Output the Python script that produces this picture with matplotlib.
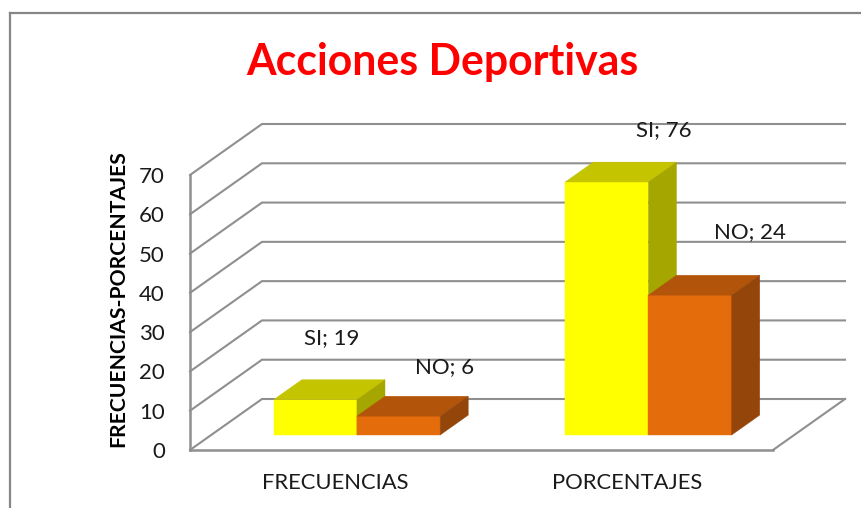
import matplotlib
matplotlib.use("Agg")
import matplotlib.pyplot as plt

plt.rcParams['font.family'] = ['Lato', 'DejaVu Sans']

categories = ['FRECUENCIAS', 'PORCENTAJES']
series_names = ['SI', 'NO']
# height of the bars as drawn in the picture, on the 0-70 axis
si_heights = [9.0, 64.4]
no_heights = [4.8, 35.6]
# values printed in the data labels
si_labels = [19, 76]
no_labels = [6, 24]
y_ticks = [0, 10, 20, 30, 40, 50, 60, 70]
title = 'Acciones Deportivas'
y_title = 'FRECUENCIAS-PORCENTAJES'

W, H = 861, 508
fig = plt.figure(figsize=(W / 100, H / 100), dpi=100, facecolor='white')
L, R, T, B = 190, 773, 175, 450
ax = fig.add_axes([L / W, 1 - B / H, (R - L) / W, (B - T) / H])
ax.set_xlim(0, 2)
ax.set_ylim(0, 70)
ax.patch.set_visible(False)

# oblique depth projection: one unit of depth in data units
DX = 72 / ((R - L) / 2)
DY = 51 / ((B - T) / 70)
GRAY = '#8f8f8f'
LW = 1.5


def proj(x, v, d):
    return x + d * DX, v + d * DY


# frame
for xs, ys in [((10, 10), (13, 508)), ((10, 861), (13, 13))]:
    fig.add_artist(plt.Line2D([x / W for x in xs], [1 - y / H for y in ys],
                              color='#868686', lw=1.6))

# side wall and back wall gridlines
for v in y_ticks:
    x0, y0 = proj(0, v, 0)
    x1, y1 = proj(0, v, 1)
    x2, y2 = proj(2, v, 1)
    ax.plot([x0, x1, x2], [y0, y1, y2], color=GRAY, lw=LW, clip_on=False,
            solid_joinstyle='miter', zorder=1)
# floor front right edge
x1, y1 = proj(2, 0, 0)
x2, y2 = proj(2, 0, 1)
ax.plot([x1, x2], [y1, y2], color=GRAY, lw=LW, clip_on=False, zorder=1)

# bars
D0, D1 = 0.294, 0.684
BW = 0.2855
styles = {
    'SI': ('#FFFF00', '#C4C400', '#A6A600'),
    'NO': ('#E46C0A', '#B2540A', '#93450A'),
}


def bar(x0, h, cols, z):
    front, top, side = cols
    x1 = x0 + BW
    quads = [
        ([(x0, 0, D0), (x1, 0, D0), (x1, h, D0), (x0, h, D0)], front),
        ([(x0, h, D0), (x1, h, D0), (x1, h, D1), (x0, h, D1)], top),
        ([(x1, 0, D0), (x1, 0, D1), (x1, h, D1), (x1, h, D0)], side),
    ]
    for pts, c in quads:
        p = [proj(*q) for q in pts]
        ax.fill([a for a, _ in p], [b for _, b in p], color=c, lw=0.3,
                clip_on=False, zorder=z)


label_offsets = {('SI', 0): (16, 62), ('NO', 0): (46, 49),
                 ('SI', 1): (57, 52), ('NO', 1): (60, 63)}
for i in range(len(categories)):
    c = i + 0.5
    groups = [('SI', si_heights[i], si_labels[i], c - BW),
              ('NO', no_heights[i], no_labels[i], c)]
    for j, (name, h, lab, x0) in enumerate(groups):
        bar(x0, h, styles[name], 3 + j)
        ox, oy = label_offsets[(name, i)]
        fx, fy = proj(x0 + BW / 2, h, D0)
        ax.annotate(f'{name}; {lab}', xy=(fx, fy), xytext=(ox * 0.72, oy * 0.72),
                    textcoords='offset points', ha='center', va='center',
                    fontsize=16, color='#1a1a1a', zorder=6,
                    annotation_clip=False)

# axes
for s in ('top', 'right'):
    ax.spines[s].set_visible(False)
for s in ('left', 'bottom'):
    ax.spines[s].set_color(GRAY)
    ax.spines[s].set_linewidth(LW + 0.3)
ax.set_yticks(y_ticks)
ax.set_yticklabels([str(v) for v in y_ticks], fontsize=16, color='#1a1a1a')
ax.set_xticks([0.5, 1.5])
ax.set_xticklabels(categories, fontsize=15.8, color='#1a1a1a')
ax.tick_params(axis='y', length=0, pad=18)
ax.tick_params(axis='x', length=0, pad=16.5)
ax.set_ylabel(y_title, fontsize=15.2, fontweight='bold', color='black')
ax.yaxis.set_label_coords((128 - L) / (R - L), (B - 299) / (B - T))

fig.text(442 / W, 1 - 62 / H, title, color='#FF0000', fontsize=30.8,
         fontweight='bold', ha='center', va='center')

fig.savefig('out.png', dpi=100, facecolor='white')
